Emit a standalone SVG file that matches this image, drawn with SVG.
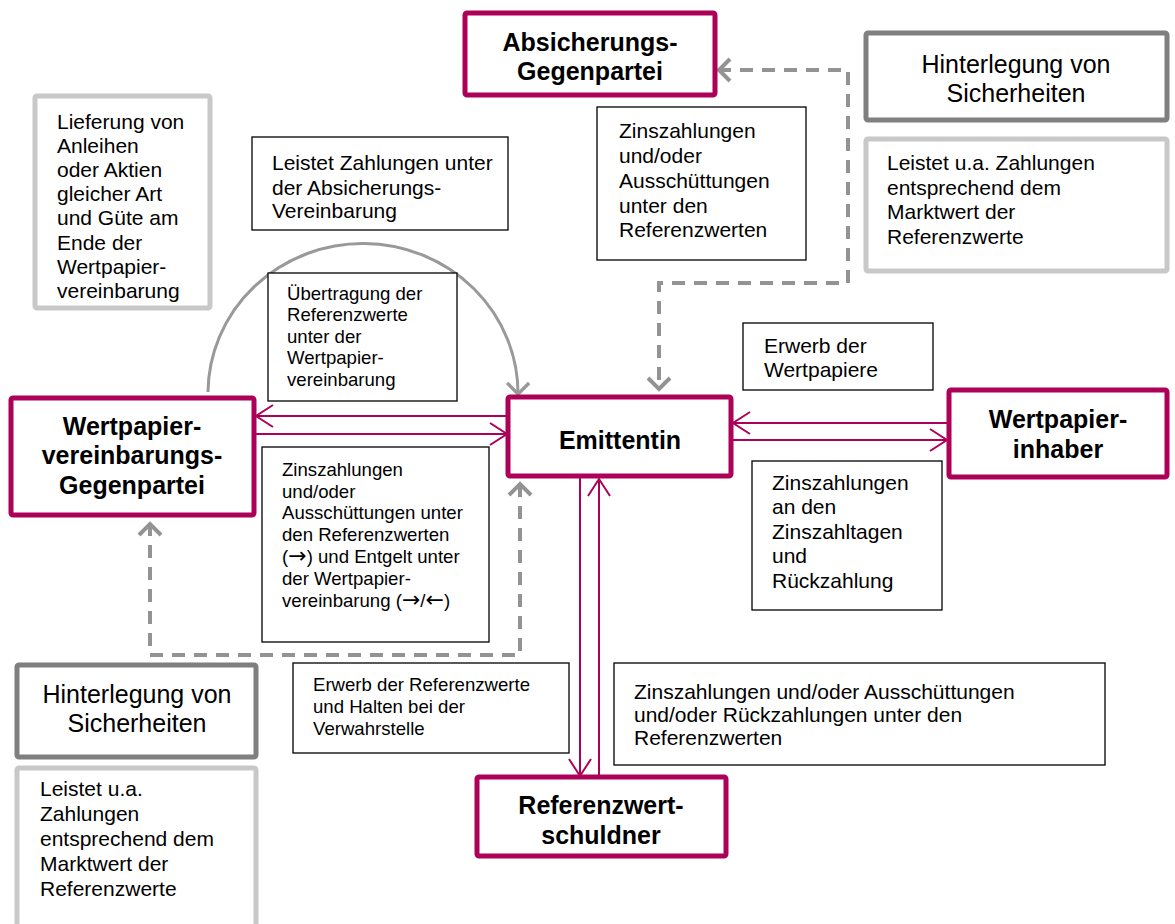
<svg xmlns="http://www.w3.org/2000/svg" width="1175" height="924" viewBox="0 0 1175 924">
<style>
text{font-family:"Liberation Sans",Arial,sans-serif;fill:#000}
.main{fill:#fff;stroke:#AD0058;stroke-width:5}
.thin{fill:#fff;stroke:#000;stroke-width:1.3}
.lg{fill:#fff;stroke:#C8C8C8;stroke-width:5}
.dg{fill:#fff;stroke:#7F7F7F;stroke-width:5}
.b{font-weight:bold;font-size:25px}
.t21{font-size:21px}
.t19{font-size:18.6px}
.t25{font-size:25px}
.ar{font-family:"DejaVu Sans",sans-serif;font-size:22px}
.mc{fill:none;stroke:#AD0058;stroke-width:2}
.gd{fill:none;stroke:#939393;stroke-width:4;stroke-dasharray:13 9}
.ga{fill:none;stroke:#999;stroke-width:3}
</style>
<defs>
<marker id="am" markerUnits="userSpaceOnUse" viewBox="0 -13 20 26" markerWidth="20" markerHeight="26" refX="18" refY="0" orient="auto-start-reverse">
<path d="M1,-11 L18,0 L1,11" fill="none" stroke="#AD0058" stroke-width="2"/>
</marker>
<marker id="ag" markerUnits="userSpaceOnUse" viewBox="0 -14 18 28" markerWidth="18" markerHeight="28" refX="14" refY="0" orient="auto-start-reverse">
<path d="M2,-11 L13,0 L2,11" fill="none" stroke="#939393" stroke-width="4" stroke-dasharray="none"/>
</marker>
<marker id="ag2" markerUnits="userSpaceOnUse" viewBox="0 -14 18 28" markerWidth="18" markerHeight="28" refX="14" refY="0" orient="auto">
<path d="M2,-11 L13,0 L2,11" fill="none" stroke="#999" stroke-width="3.5"/>
</marker>
</defs>

<g id="connectors">
<path class="ga" d="M 208 392 A 155 150 0 0 1 518 395" marker-end="url(#ag2)"/>
<path class="gd" d="M 718 70 H 848 V 283 H 659 V 390" marker-start="url(#ag)" marker-end="url(#ag)"/>
<path class="gd" d="M 150 523 V 655 H 520 V 483" marker-start="url(#ag)" marker-end="url(#ag)"/>
<line class="mc" x1="508" y1="416" x2="256" y2="416" marker-end="url(#am)"/>
<line class="mc" x1="256" y1="434" x2="507" y2="434" marker-end="url(#am)"/>
<line class="mc" x1="948" y1="423" x2="733" y2="423" marker-end="url(#am)"/>
<line class="mc" x1="733" y1="440" x2="947" y2="440" marker-end="url(#am)"/>
<line class="mc" x1="580" y1="478" x2="580" y2="776" marker-end="url(#am)"/>
<line class="mc" x1="599" y1="776" x2="599" y2="479" marker-end="url(#am)"/>
</g>

<g id="absicherungs-gegenpartei">
<rect class="main" x="465" y="13" width="250" height="82" rx="2"/>
<text class="b" x="590" y="51" text-anchor="middle">Absicherungs-</text>
<text class="b" x="590" y="80" text-anchor="middle">Gegenpartei</text>
</g>

<g id="hinterlegung-rechts">
<rect class="dg" x="866" y="33" width="301" height="87" rx="2"/>
<text class="t25" x="1016" y="73" text-anchor="middle">Hinterlegung von</text>
<text class="t25" x="1016" y="102" text-anchor="middle">Sicherheiten</text>
</g>

<g id="leistet-rechts">
<rect class="lg" x="866" y="139" width="301" height="132" rx="2"/>
<text class="t21" x="887" y="170">Leistet u.a. Zahlungen</text>
<text class="t21" x="887" y="195">entsprechend dem</text>
<text class="t21" x="887" y="219">Marktwert der</text>
<text class="t21" x="887" y="244">Referenzwerte</text>
</g>

<g id="lieferung">
<rect class="lg" x="35" y="96" width="175" height="212" rx="2"/>
<text class="t21" x="57" y="129">Lieferung von</text>
<text class="t21" x="57" y="153">Anleihen</text>
<text class="t21" x="57" y="177">oder Aktien</text>
<text class="t21" x="57" y="201">gleicher Art</text>
<text class="t21" x="57" y="225">und Güte am</text>
<text class="t21" x="57" y="250">Ende der</text>
<text class="t21" x="57" y="274">Wertpapier-</text>
<text class="t21" x="57" y="298">vereinbarung</text>
</g>

<g id="leistet-zahlungen">
<rect class="thin" x="252" y="137" width="256" height="93"/>
<text class="t21" x="272" y="170">Leistet Zahlungen unter</text>
<text class="t21" x="272" y="195">der Absicherungs-</text>
<text class="t21" x="272" y="218">Vereinbarung</text>
</g>

<g id="zins-oben">
<rect class="thin" x="597" y="107" width="209" height="153"/>
<text class="t21" x="619" y="138">Zinszahlungen</text>
<text class="t21" x="619" y="163">und/oder</text>
<text class="t21" x="619" y="188">Ausschüttungen</text>
<text class="t21" x="619" y="213">unter den</text>
<text class="t21" x="619" y="237">Referenzwerten</text>
</g>

<g id="uebertragung">
<rect class="thin" x="268" y="273" width="189" height="128"/>
<text class="t19" x="287" y="300">Übertragung der</text>
<text class="t19" x="287" y="321">Referenzwerte</text>
<text class="t19" x="287" y="343">unter der</text>
<text class="t19" x="287" y="364">Wertpapier-</text>
<text class="t19" x="287" y="386">vereinbarung</text>
</g>

<g id="wertpapiervereinbarungs-gegenpartei">
<rect class="main" x="11" y="398" width="243" height="117" rx="2"/>
<text class="b" x="132" y="435" text-anchor="middle">Wertpapier-</text>
<text class="b" x="132" y="464" text-anchor="middle">vereinbarungs-</text>
<text class="b" x="132" y="494" text-anchor="middle">Gegenpartei</text>
</g>

<g id="emittentin">
<rect class="main" x="508" y="397" width="223" height="79" rx="2"/>
<text class="b" x="620" y="449" text-anchor="middle">Emittentin</text>
</g>

<g id="wertpapierinhaber">
<rect class="main" x="949" y="390" width="218" height="87" rx="2"/>
<text class="b" x="1058" y="428" text-anchor="middle">Wertpapier-</text>
<text class="b" x="1058" y="458" text-anchor="middle">inhaber</text>
</g>

<g id="erwerb-wertpapiere">
<rect class="thin" x="743" y="323" width="190" height="67"/>
<text class="t21" x="764" y="353">Erwerb der</text>
<text class="t21" x="764" y="377">Wertpapiere</text>
</g>

<g id="zins-inhaber">
<rect class="thin" x="752" y="461" width="190" height="149"/>
<text class="t21" x="772" y="490">Zinszahlungen</text>
<text class="t21" x="772" y="514">an den</text>
<text class="t21" x="772" y="539">Zinszahltagen</text>
<text class="t21" x="772" y="563">und</text>
<text class="t21" x="772" y="588">Rückzahlung</text>
</g>

<g id="zins-wvg">
<rect class="thin" x="262" y="447" width="227" height="195"/>
<text class="t19" x="282" y="476">Zinszahlungen</text>
<text class="t19" x="282" y="498">und/oder</text>
<text class="t19" x="282" y="519">Ausschüttungen unter</text>
<text class="t19" x="282" y="541">den Referenzwerten</text>
<text class="t19" x="282" y="563">(<tspan class="ar">→</tspan>) und Entgelt unter</text>
<text class="t19" x="282" y="585">der Wertpapier-</text>
<text class="t19" x="282" y="607">vereinbarung (<tspan class="ar">→</tspan>/<tspan class="ar">←</tspan>)</text>
</g>

<g id="hinterlegung-links">
<rect class="dg" x="17" y="665" width="239" height="92" rx="2"/>
<text class="t25" x="137" y="703" text-anchor="middle">Hinterlegung von</text>
<text class="t25" x="137" y="732" text-anchor="middle">Sicherheiten</text>
</g>

<g id="leistet-links">
<rect class="lg" x="17" y="768" width="239" height="170" rx="2"/>
<text class="t21" x="40" y="796">Leistet u.a.</text>
<text class="t21" x="40" y="821">Zahlungen</text>
<text class="t21" x="40" y="846">entsprechend dem</text>
<text class="t21" x="40" y="871">Marktwert der</text>
<text class="t21" x="40" y="896">Referenzwerte</text>
</g>

<g id="erwerb-referenzwerte">
<rect class="thin" x="293" y="663" width="276" height="90"/>
<text class="t19" x="313" y="691">Erwerb der Referenzwerte</text>
<text class="t19" x="313" y="713">und Halten bei der</text>
<text class="t19" x="313" y="735">Verwahrstelle</text>
</g>

<g id="zins-referenz">
<rect class="thin" x="614" y="663" width="491" height="102"/>
<text class="t21" x="634" y="699">Zinszahlungen und/oder Ausschüttungen</text>
<text class="t21" x="634" y="722">und/oder Rückzahlungen unter den</text>
<text class="t21" x="634" y="745">Referenzwerten</text>
</g>

<g id="referenzwertschuldner">
<rect class="main" x="477" y="777" width="249" height="79" rx="2"/>
<text class="b" x="601" y="814" text-anchor="middle">Referenzwert-</text>
<text class="b" x="601" y="844" text-anchor="middle">schuldner</text>
</g>
</svg>
